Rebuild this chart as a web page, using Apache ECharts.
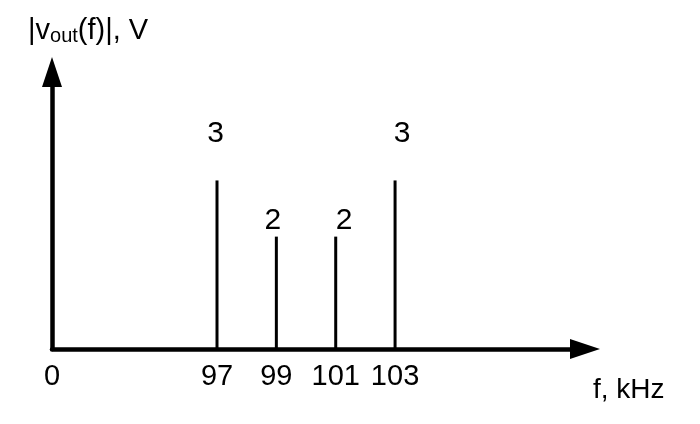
<!DOCTYPE html>
<html>
<head>
<meta charset="utf-8">
<script src="https://cdn.jsdelivr.net/npm/echarts@6/dist/echarts.min.js"></script>
<style>
html,body{margin:0;padding:0;background:#fff;}
#chart{width:700px;height:424px;}
</style>
</head>
<body>
<div id="chart"></div>
<script>
// Data
const freqs = [97, 99, 101, 103];          // kHz
const amps = [3, 2, 2, 3];                 // V
const xTickValues = [0, 97, 99, 101, 103];
const xAxisTitle = 'f, kHz';

// Label placement tweaks (style only)
const labelDx = [-1.5, -3.5, 8.5, 7];
const labelGap = [32, 1, 1, 32];

const FONT = 'Liberation Sans, Arial, sans-serif';
const chart = echarts.init(document.getElementById('chart'), null, {renderer: 'canvas'});

const option = {
  backgroundColor: '#ffffff',
  animation: false,
  title: {
    text: '{m||v}{s|out}{m|(f)|, V}',
    left: 28,
    top: 16,
    padding: 0,
    textStyle: {
      fontWeight: 'normal',
      rich: {
        m: {fontSize: 29, fontWeight: 'normal', fontFamily: FONT, color: '#000', lineHeight: 30},
        s: {fontSize: 20, fontWeight: 'normal', fontFamily: FONT, color: '#000', lineHeight: 19, verticalAlign: 'bottom'}
      }
    }
  },
  grid: {left: 52, right: 115, top: 72, bottom: 75, containLabel: false, outerBoundsMode: 'none'},
  xAxis: {
    type: 'value',
    min: 0,
    max: 109.4,
    breaks: [{start: 1, end: 96, gap: 3.56}],
    breakArea: {show: false},
    name: xAxisTitle,
    nameLocation: 'end',
    nameGap: 8,
    nameTextStyle: {fontSize: 28, fontFamily: FONT, color: '#000', align: 'left', verticalAlign: 'top', padding: [27, 0, 0, 0]},
    axisLine: {
      show: true,
      onZero: false,
      breakLine: false,
      symbol: ['none', 'triangle'],
      symbolSize: [20, 30],
      lineStyle: {color: '#000', width: 4.5}
    },
    axisTick: {show: false},
    splitLine: {show: false},
    axisLabel: {
      show: true,
      customValues: xTickValues,
      margin: 13,
      fontSize: 29,
      fontFamily: FONT,
      color: '#000',
      formatter: v => String(v)
    }
  },
  yAxis: {
    type: 'value',
    min: 0,
    max: 4.93,
    axisLine: {
      show: true,
      onZero: false,
      symbol: ['none', 'triangle'],
      symbolSize: [20, 30],
      lineStyle: {color: '#000', width: 4.5}
    },
    axisTick: {show: false},
    splitLine: {show: false},
    axisLabel: {show: false}
  },
  series: [{
    type: 'bar',
    barWidth: 3,
    itemStyle: {color: '#000'},
    z: 1,
    data: freqs.map((f, i) => ({
      value: [f, amps[i]],
      label: {
        show: true,
        position: 'top',
        distance: labelGap[i],
        offset: [labelDx[i], 0],
        fontSize: 30,
        fontFamily: FONT,
        color: '#000',
        formatter: p => String(p.value[1])
      }
    }))
  }]
};
chart.setOption(option);
</script>
</body>
</html>
